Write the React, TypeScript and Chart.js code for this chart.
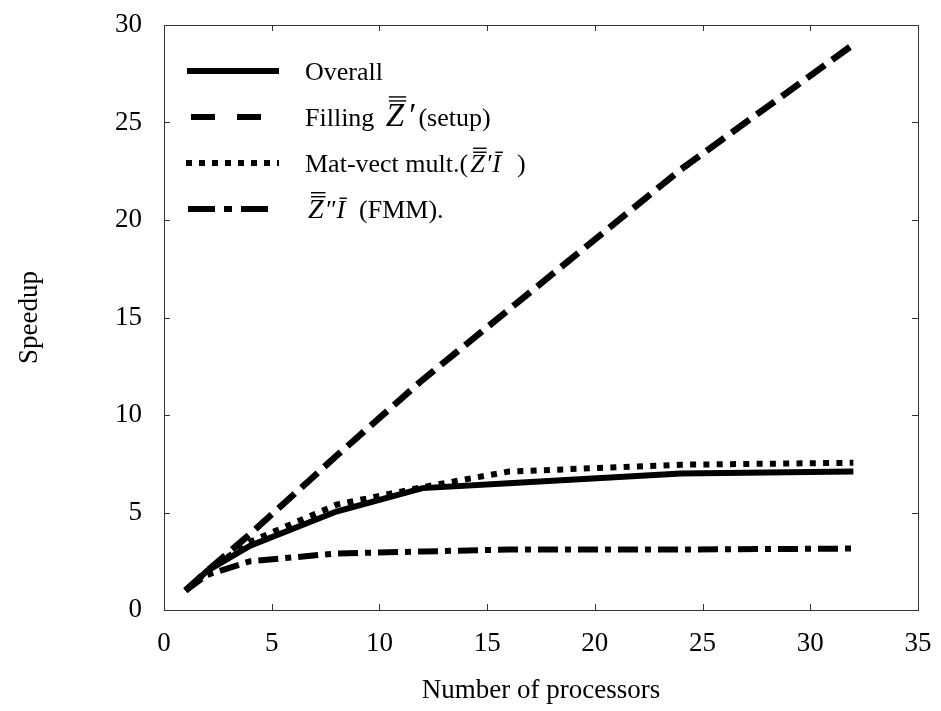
import React, { useEffect, useRef } from "react";
import { Chart, registerables } from "chart.js";

Chart.register(...registerables);

// ---- data ----
const processors = [1, 2, 4, 8, 12, 16, 24, 32];
const overall = [1, 2.0, 3.3, 5.05, 6.25, 6.5, 7.0, 7.1];
const filling = [1, 2.0, 3.9, 7.9, 11.8, 15.4, 22.6, 29.0];
const matVect = [1, 2.0, 3.5, 5.4, 6.3, 7.1, 7.45, 7.55];
const fmm = [1, 1.8, 2.5, 2.9, 3.0, 3.1, 3.1, 3.15];

const xTicks = [0, 5, 10, 15, 20, 25, 30, 35];
const yTicks = [0, 5, 10, 15, 20, 25, 30];
const xTitle = "Number of processors";
const yTitle = "Speedup";

type Seg = { text: string; italic?: boolean; bars?: number; gap?: number; size?: number };
const legendRows: { segs: Seg[]; dash: number[]; x0: number; x1: number; tx: number }[] = [
  { segs: [{ text: "Overall" }], dash: [], x0: 187, x1: 279, tx: 305 },
  {
    segs: [
      { text: "Filling ", gap: 5 },
      { text: "Z", italic: true, bars: 2, size: 33, gap: 3 },
      { text: "\u2032", italic: true, size: 33, gap: 4 },
      { text: "(setup)" },
    ],
    dash: [24, 22],
    x0: 191,
    x1: 264,
    tx: 305,
  },
  {
    segs: [
      { text: "Mat-vect mult.(", gap: 2 },
      { text: "Z", italic: true, bars: 2, gap: 1 },
      { text: "\u2032", italic: true, gap: 1 },
      { text: "I", italic: true, bars: 1, gap: 16 },
      { text: ")" },
    ],
    dash: [6, 7],
    x0: 186,
    x1: 279,
    tx: 305,
  },
  {
    segs: [
      { text: "Z", italic: true, bars: 2, size: 28, gap: 1 },
      { text: "\u2033", italic: true, gap: 1 },
      { text: "I", italic: true, bars: 1, gap: 14 },
      { text: "(FMM)." },
    ],
    dash: [27, 9, 8, 9],
    x0: 188,
    x1: 270,
    tx: 308,
  },
];

const FONT = '"Liberation Serif", "Times New Roman", serif';
const LABEL_SIZE = 27;

function drawRich(ctx: CanvasRenderingContext2D, segs: Seg[], x: number, y: number, size: number) {
  let cx = x;
  for (const s of segs) {
    const sz = s.size || size;
    ctx.font = `${s.italic ? "italic " : ""}${sz}px ${FONT}`;
    ctx.fillText(s.text, cx, y);
    const w = ctx.measureText(s.text).width;
    if (s.bars) {
      ctx.save();
      ctx.lineWidth = 1.4;
      ctx.strokeStyle = "#000";
      for (let b = 0; b < s.bars; b++) {
        const by = y - sz * 0.76 - b * 4;
        ctx.beginPath();
        ctx.moveTo(cx + 3, by);
        ctx.lineTo(cx + w + 2, by);
        ctx.stroke();
      }
      ctx.restore();
    }
    cx += w + (s.gap || 0);
  }
}

const framePlugin = {
  id: "frameAndLegend",
  afterDraw(chart: any) {
    const { ctx, chartArea } = chart;
    const { left, right, top, bottom } = chartArea;
    const xs = chart.scales.x;
    const ys = chart.scales.y;
    ctx.save();
    ctx.strokeStyle = "#333";
    ctx.lineWidth = 1;
    ctx.setLineDash([]);
    ctx.strokeRect(Math.round(left) + 0.5, Math.round(top) + 0.5, Math.round(right - left), Math.round(bottom - top));
    const tl = 6;
    ctx.beginPath();
    for (const v of xTicks) {
      const px = Math.round(xs.getPixelForValue(v)) + 0.5;
      ctx.moveTo(px, bottom);
      ctx.lineTo(px, bottom - tl);
      ctx.moveTo(px, top);
      ctx.lineTo(px, top + tl);
    }
    for (const v of yTicks) {
      const py = Math.round(ys.getPixelForValue(v)) + 0.5;
      ctx.moveTo(left, py);
      ctx.lineTo(left + tl, py);
      ctx.moveTo(right, py);
      ctx.lineTo(right - tl, py);
    }
    ctx.stroke();

    // legend
    const rowYs = [71, 117, 163, 209];
    ctx.fillStyle = "#000";
    ctx.textBaseline = "alphabetic";
    ctx.textAlign = "left";
    legendRows.forEach((row, i) => {
      const ry = rowYs[i];
      ctx.save();
      ctx.strokeStyle = "#000";
      ctx.lineWidth = 6;
      ctx.lineCap = "butt";
      ctx.setLineDash(row.dash);
      ctx.beginPath();
      ctx.moveTo(row.x0, ry);
      ctx.lineTo(row.x1, ry);
      ctx.stroke();
      ctx.restore();
      drawRich(ctx, row.segs, row.tx, ry + 9, 26);
    });
    ctx.restore();
  },
};

export default function App() {
  const ref = useRef<HTMLCanvasElement | null>(null);
  useEffect(() => {
    if (!ref.current) return;
    const mk = (label: string, data: number[], dash: number[], width: number) => ({
      label,
      data: processors.map((p, i) => ({ x: p, y: data[i] })),
      borderColor: "#000",
      backgroundColor: "#000",
      borderWidth: width,
      borderDash: dash,
      borderCapStyle: "butt",
      borderJoinStyle: "miter",
      pointRadius: 0,
      tension: 0,
      fill: false,
    });
    const chart = new Chart(ref.current, {
      type: "line",
      data: {
        datasets: [
          mk("Overall", overall, [], 6),
          mk("Filling", filling, [22, 9], 6.5),
          mk("Mat-vect", matVect, [6, 7.3], 6),
          mk("FMM", fmm, [20, 7, 6, 7], 6),
        ] as any,
      },
      options: {
        responsive: false,
        animation: false,
        layout: { padding: { top: 25, right: 23, left: 0, bottom: 0 } },
        plugins: { legend: { display: false }, tooltip: { enabled: false } },
        scales: {
          x: {
            type: "linear",
            min: 0,
            max: 35,
            afterFit: (s: any) => {
              s.height = 101;
              s.paddingLeft = 0;
              s.paddingRight = 0;
              s.paddingTop = 0;
              s.paddingBottom = 0;
            },
            afterBuildTicks: (s: any) => {
              s.ticks = xTicks.map((v) => ({ value: v }));
            },
            grid: { display: false },
            border: { display: false },
            ticks: { color: "#000", font: { family: FONT, size: LABEL_SIZE }, padding: 10, maxRotation: 0, autoSkip: false },
            title: {
              display: true,
              text: xTitle,
              color: "#000",
              font: { family: FONT, size: LABEL_SIZE },
              padding: { top: 4, bottom: 4 },
            },
          },
          y: {
            type: "linear",
            min: 0,
            max: 30,
            afterFit: (s: any) => {
              s.width = 164;
              s.paddingLeft = 0;
              s.paddingRight = 0;
              s.paddingTop = 0;
              s.paddingBottom = 0;
            },
            afterBuildTicks: (s: any) => {
              s.ticks = yTicks.map((v) => ({ value: v }));
            },
            grid: { display: false },
            border: { display: false },
            ticks: { color: "#000", font: { family: FONT, size: LABEL_SIZE }, padding: 14, autoSkip: false },
            title: {
              display: true,
              text: yTitle,
              color: "#000",
              font: { family: FONT, size: LABEL_SIZE },
              padding: { top: 14, bottom: 4 },
            },
          },
        },
      } as any,
      plugins: [framePlugin],
    });
    return () => chart.destroy();
  }, []);
  return (
    <div style={{ position: "fixed", left: 0, top: 0, width: 941, height: 711, background: "#fff" }}>
      <canvas ref={ref} width={941} height={711} style={{ display: "block" }} />
    </div>
  );
}
